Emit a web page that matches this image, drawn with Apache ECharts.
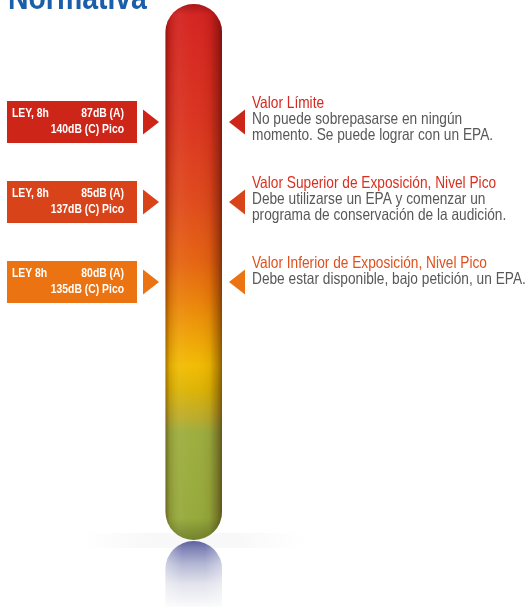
<!DOCTYPE html>
<html>
<head>
<meta charset="utf-8">
<script src="https://cdn.jsdelivr.net/npm/echarts@6/dist/echarts.min.js"></script>
<style>
html,body{margin:0;padding:0;background:#fff;}
#chart{width:528px;height:607px;}
</style>
</head>
<body>
<div id="chart"></div>
<script>
// ---- data ----
const levels = ['Valor Límite', 'Valor Superior de Exposición, Nivel Pico', 'Valor Inferior de Exposición, Nivel Pico'];
const leyLabels = ['LEY, 8h', 'LEY, 8h', 'LEY 8h'];
const dbA = [87, 85, 80];
const dbCPico = [140, 137, 135];
const descriptions = [
  ['No puede sobrepasarse en ningún', 'momento. Se puede lograr con un EPA.'],
  ['Debe utilizarse un EPA y comenzar un', 'programa de conservación de la audición.'],
  ['Debe estar disponible, bajo petición, un EPA.']
];
const titleText = 'Normativa';

// ---- style ----
const FONT = '"Liberation Sans", Arial, sans-serif';
const SX = 0.83; // condensed look
const boxColors = ['#cd2518', '#d9431a', '#eb7311'];
const titleColors = ['#d5281e', '#da2f1f', '#e0501d'];

const chart = echarts.init(document.getElementById('chart'), null, {renderer: 'canvas'});

function txt(x, y, text, font, fill, align, vAlign, extra) {
  const style = Object.assign({x: 0, y: 0, text: text, fill: fill, font: font, align: align, verticalAlign: vAlign}, extra || {});
  return {type: 'text', x: x, y: y, scaleX: SX, style: style};
}

function renderItem(params, api) {
  const i = api.value(1);
  const cy = api.coord([0, i])[1];
  const c = boxColors[i];
  const bf = 'bold 12.5px ' + FONT;
  const rf = '16.5px ' + FONT;
  return {
    type: 'group',
    children: [
      {type: 'rect', shape: {x: 7, y: cy - 21, width: 130, height: 42}, style: {fill: c}},
      txt(12, cy - 8, leyLabels[i], bf, '#fff', 'left', 'middle'),
      txt(124, cy - 8, dbA[i] + 'dB (A)', bf, '#fff', 'right', 'middle'),
      txt(124, cy + 8, dbCPico[i] + 'dB (C) Pico', bf, '#fff', 'right', 'middle'),
      {type: 'polygon', shape: {points: [[143, cy - 12.5], [159, cy], [143, cy + 12.5]]}, style: {fill: c}},
      {type: 'polygon', shape: {points: [[245, cy - 12.5], [229, cy], [245, cy + 12.5]]}, style: {fill: c}},
      txt(252, cy - 19, levels[i], rf, titleColors[i], 'left', 'middle'),
      txt(252, cy - 11, descriptions[i].join('\n'), rf, '#585858', 'left', 'top', {lineHeight: 16})
    ]
  };
}

const barX = 165.5, barW = 56.5, barTop = 4, barBottom = 540;
const barH = barBottom - barTop;

const option = {
  animation: false,
  backgroundColor: '#ffffff',
  grid: {left: 0, right: 0, top: 82, bottom: 285},
  xAxis: {type: 'value', min: 0, max: 528, show: false},
  yAxis: {type: 'category', data: levels, inverse: true, show: false},
  graphic: [
    // title
    {type: 'text', z: 20, x: 8, y: 0, scaleX: 0.835,
      style: {x: 0, y: 0, text: titleText, fill: '#1b5ea9', font: 'bold 34px ' + FONT, align: 'left', verticalAlign: 'middle'}},
    // faint floor band
    {type: 'rect', z: 0, shape: {x: 80, y: 533, width: 225, height: 15},
      style: {fill: new echarts.graphic.LinearGradient(0, 0, 1, 0, [
        {offset: 0, color: 'rgba(240,240,242,0)'}, {offset: 0.3, color: 'rgba(240,240,242,0.45)'},
        {offset: 0.7, color: 'rgba(240,240,242,0.45)'}, {offset: 1, color: 'rgba(240,240,242,0)'}])}},
    // reflection
    {type: 'rect', z: 1, shape: {x: barX, y: barBottom + 1, width: barW, height: 66, r: [28, 28, 0, 0]},
      style: {fill: new echarts.graphic.LinearGradient(0, 0, 0, 1, [
        {offset: 0, color: '#5e629e'}, {offset: 0.12, color: '#8084b6'}, {offset: 0.35, color: '#b4b7d4'},
        {offset: 0.65, color: '#e2e3ec'}, {offset: 1, color: '#fbfbfc'}])}},
    {type: 'rect', z: 2, shape: {x: barX, y: barBottom + 1, width: barW, height: 66, r: [28, 28, 0, 0]},
      style: {fill: new echarts.graphic.LinearGradient(0, 0, 1, 0, [
        {offset: 0, color: 'rgba(255,255,255,0.35)'}, {offset: 0.3, color: 'rgba(255,255,255,0)'},
        {offset: 0.7, color: 'rgba(255,255,255,0)'}, {offset: 1, color: 'rgba(255,255,255,0.35)'}])}},
    // thermometer body
    {type: 'rect', z: 3, shape: {x: barX, y: barTop, width: barW, height: barH, r: 28},
      style: {fill: new echarts.graphic.LinearGradient(0, 0, 0, 1, [
        {offset: 0.0, color: '#d31f1e'},
        {offset: 0.22, color: '#da321d'},
        {offset: 0.37, color: '#df4819'},
        {offset: 0.48, color: '#e5620f'},
        {offset: 0.55, color: '#ea7f08'},
        {offset: 0.63, color: '#efa603'},
        {offset: 0.675, color: '#f2bb00'},
        {offset: 0.72, color: '#dcb302'},
        {offset: 0.77, color: '#bcab28'},
        {offset: 0.80, color: '#9cad3c'},
        {offset: 1.0, color: '#93a738'}])}},
    // cylinder shading
    {type: 'rect', z: 4, shape: {x: barX, y: barTop, width: barW, height: barH, r: 28},
      style: {fill: new echarts.graphic.LinearGradient(0, 0, 1, 0, [
        {offset: 0, color: 'rgba(40,0,0,0.38)'},
        {offset: 0.07, color: 'rgba(40,0,0,0.12)'},
        {offset: 0.25, color: 'rgba(255,255,255,0.06)'},
        {offset: 0.5, color: 'rgba(255,255,255,0.02)'},
        {offset: 0.78, color: 'rgba(40,0,0,0.06)'},
        {offset: 0.92, color: 'rgba(40,0,0,0.3)'},
        {offset: 1, color: 'rgba(40,0,0,0.5)'}])}},
    // top & bottom cap shading
    {type: 'rect', z: 5, shape: {x: barX, y: barTop, width: barW, height: barH, r: 28},
      style: {fill: new echarts.graphic.LinearGradient(0, 0, 0, 1, [
        {offset: 0, color: 'rgba(60,0,0,0.3)'},
        {offset: 0.02, color: 'rgba(60,0,0,0)'},
        {offset: 0.96, color: 'rgba(0,0,0,0)'},
        {offset: 1, color: 'rgba(20,20,0,0.25)'}])}}
  ],
  series: [{
    type: 'custom',
    renderItem: renderItem,
    encode: {x: 0, y: 1},
    data: levels.map((_, i) => [0, i]),
    z: 10
  }]
};
chart.setOption(option);
</script>
</body>
</html>
